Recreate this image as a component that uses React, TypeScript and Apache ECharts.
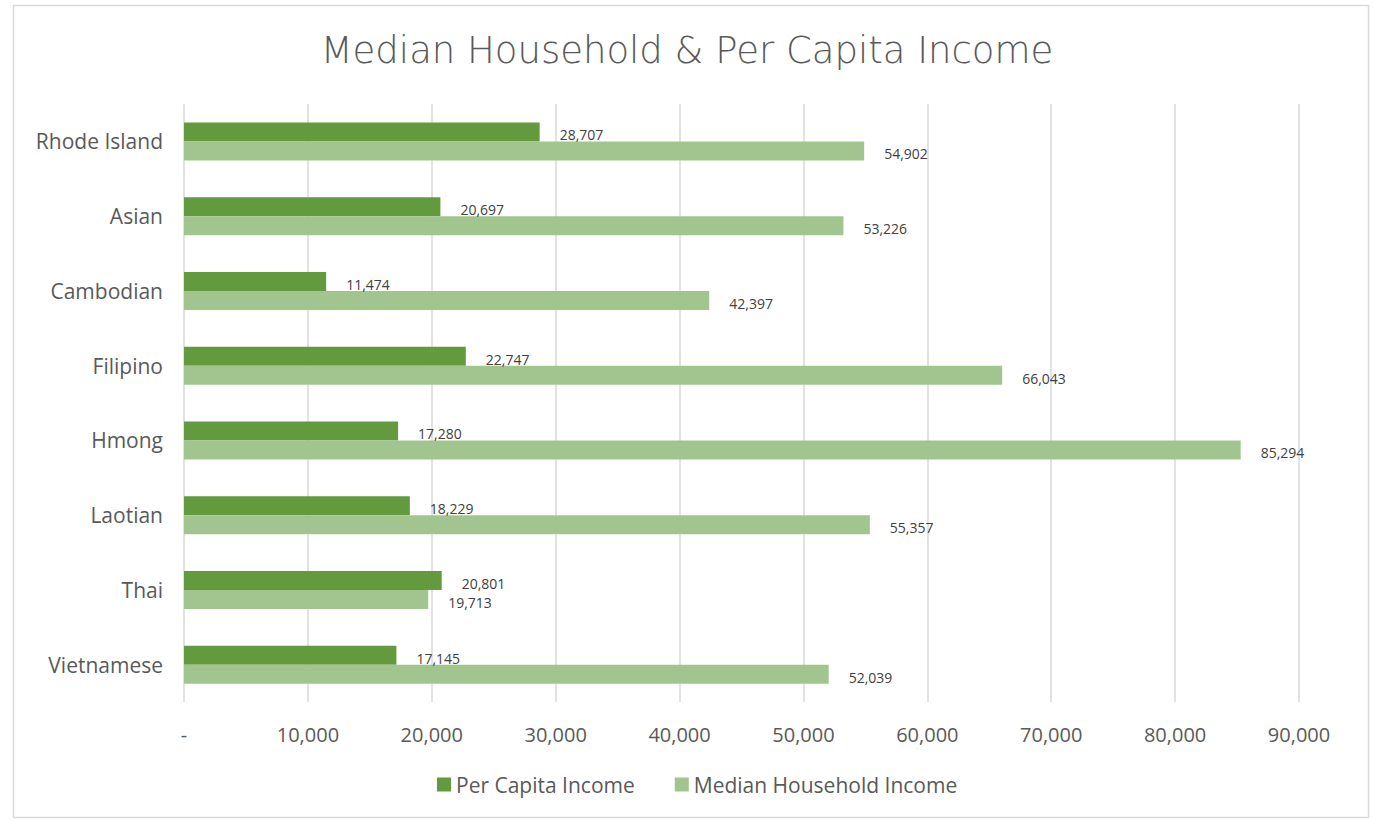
import React, { useEffect, useRef } from "react";
import * as echarts from "echarts";

const categories = ["Rhode Island", "Asian", "Cambodian", "Filipino", "Hmong", "Laotian", "Thai", "Vietnamese"];
const perCapita = [28707, 20697, 11474, 22747, 17280, 18229, 20801, 17145];
const medianHousehold = [54902, 53226, 42397, 66043, 85294, 55357, 19713, 52039];
const seriesNames = ["Per Capita Income", "Median Household Income"];
const titleText = "Median Household & Per Capita Income";

const fmt = (v: number) => (v === 0 ? "-" : v.toLocaleString("en-US"));

export default function App() {
  const ref = useRef<HTMLDivElement>(null);
  useEffect(() => {
    if (!ref.current) return;
    const chart = echarts.init(ref.current, undefined, { renderer: "svg" });
    const labelStyle = {
      show: true,
      position: "right" as const,
      distance: 20,
      offset: [0, 3],
      color: "#404040",
      fontSize: 14,
      fontFamily: "Open Sans",
      formatter: (p: any) => fmt(p.value),
    };
    chart.setOption({
      animation: false,
      backgroundColor: "#ffffff",
      title: {
        text: titleText,
        left: "center",
        top: 27,
        textStyle: { color: "#595959", fontSize: 37, fontWeight: 200, fontFamily: "DejaVu Sans" },
      },
      graphic: [
        {
          type: "rect",
          shape: { x: 13.5, y: 5.5, width: 1355, height: 812 },
          style: { fill: "none", stroke: "#d9d9d9", lineWidth: 1.5 },
          silent: true,
        },
      ],
      legend: {
        data: seriesNames,
        bottom: 20,
        left: 432,
        itemWidth: 14,
        itemHeight: 14,
        itemGap: 40,
        icon: "rect",
        textStyle: { color: "#595959", fontSize: 21, fontFamily: "Open Sans" },
      },
      grid: { left: 184, right: 75, top: 104, bottom: 118, containLabel: false },
      xAxis: {
        type: "value",
        min: 0,
        max: 90000,
        interval: 10000,
        axisLine: { show: false },
        axisTick: { show: false },
        splitLine: { show: true, lineStyle: { color: "#d9d9d9", width: 1.5 } },
        axisLabel: {
          color: "#595959",
          fontSize: 20,
          fontFamily: "Open Sans",
          margin: 22,
          formatter: (v: number) => fmt(v),
        },
      },
      yAxis: {
        type: "category",
        data: categories,
        inverse: true,
        axisLine: { show: false },
        axisTick: { show: false },
        axisLabel: { color: "#595959", fontSize: 21, fontFamily: "Open Sans", margin: 21 },
      },
      series: [
        {
          name: seriesNames[0],
          type: "bar",
          data: perCapita,
          barWidth: 19,
          barGap: "0%",
          itemStyle: { color: "#629a3d" },
          label: labelStyle,
        },
        {
          name: seriesNames[1],
          type: "bar",
          data: medianHousehold,
          barWidth: 19,
          barGap: "0%",
          itemStyle: { color: "#a2c58f" },
          label: labelStyle,
        },
      ],
    });
    return () => chart.dispose();
  }, []);
  return (
    <div
      ref={ref}
      style={{ position: "absolute", left: 0, top: 0, width: 1374, height: 820, background: "#fff" }}
    />
  );
}
